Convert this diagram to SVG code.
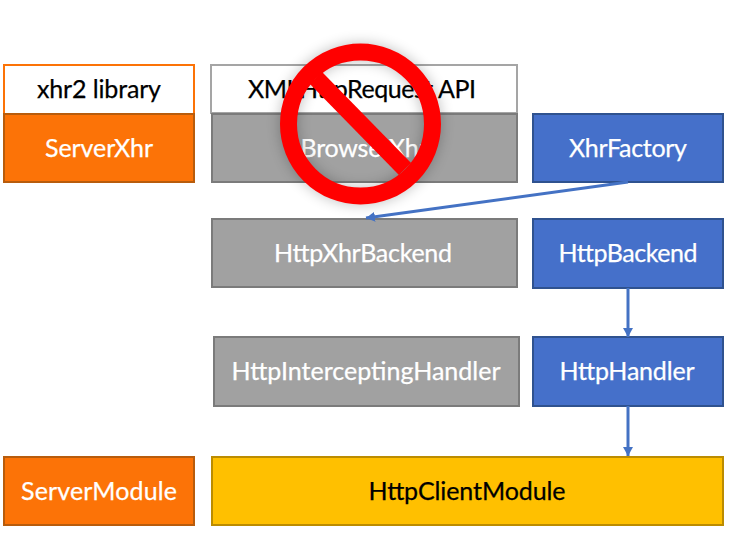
<svg xmlns="http://www.w3.org/2000/svg" width="733" height="539" viewBox="0 0 733 539">
<defs>
<style>
text{font-family:"Lato","Liberation Sans",sans-serif;font-size:25px;text-anchor:middle;stroke-width:.25px}
.w{fill:#fff;stroke:#fff}.k{fill:#000;stroke:#000}
.or rect{fill:#fc7307;stroke:#b85c0c;stroke-width:2}
.gr rect{fill:#a1a1a1;stroke:#7b7b7b;stroke-width:2}
.bl rect{fill:#4570ca;stroke:#2f528f;stroke-width:2}
.ye rect{fill:#ffc000;stroke:#bc8c00;stroke-width:2}
.c{fill:none;stroke:#4472c4;stroke-width:3}
</style>
<marker id="a" markerUnits="userSpaceOnUse" markerWidth="10" markerHeight="10" refX="9" refY="5" orient="auto"><path d="M0 0L9 5L0 10Z" fill="#4472c4"/></marker>
<filter id="s" x="-20%" y="-20%" width="140%" height="140%"><feGaussianBlur stdDeviation="7"/></filter>
</defs>
<g id="xhr2"><rect x="4" y="65" width="190" height="49" fill="#fff" stroke="#fc7307" stroke-width="2"/><text class="k" x="99" y="97.500" textLength="124">xhr2 library</text></g>
<g id="serverxhr" class="or"><rect x="4" y="114" width="190" height="68"/><text class="w" x="99" y="157" textLength="108">ServerXhr</text></g>
<g id="xhrapi"><rect x="211" y="65" width="306" height="48" fill="#fff" stroke="#a5a5a5" stroke-width="2"/><text class="k" x="362" y="98" textLength="228">XMLHttpRequest API</text></g>
<g id="browserxhr" class="gr"><rect x="212" y="114" width="305" height="68"/><text class="w" x="364" y="157" textLength="127">BrowserXhr</text></g>
<g id="xhrfactory" class="bl"><rect x="533" y="114" width="190" height="68"/><text class="w" x="628" y="157" textLength="118">XhrFactory</text></g>
<g id="httpxhrbackend" class="gr"><rect x="212" y="219" width="305" height="68"/><text class="w" x="363" y="262" textLength="178">HttpXhrBackend</text></g>
<g id="httpbackend" class="bl"><rect x="533" y="219" width="190" height="69"/><text class="w" x="628" y="262" textLength="139">HttpBackend</text></g>
<g id="httpinterceptinghandler" class="gr"><rect x="214" y="337" width="305" height="69"/><text class="w" x="366" y="380" textLength="269">HttpInterceptingHandler</text></g>
<g id="httphandler" class="bl"><rect x="533" y="337" width="190" height="69"/><text class="w" x="627" y="380" textLength="135">HttpHandler</text></g>
<g id="servermodule" class="or"><rect x="4" y="457" width="190" height="68"/><text class="w" x="99" y="500" textLength="156">ServerModule</text></g>
<g id="httpclientmodule" class="ye"><rect x="212" y="457" width="511" height="68"/><text class="k" x="467" y="500" textLength="197">HttpClientModule</text></g>
<g id="connectors">
<path class="c" d="M628 182L366 218" marker-end="url(#a)"/>
<path class="c" d="M628 288V337" marker-end="url(#a)"/>
<path class="c" d="M628 406V456" marker-end="url(#a)"/>
</g>
<g id="prohibited">
<g filter="url(#s)" opacity=".25"><circle cx="360.500" cy="124" r="72" fill="none" stroke="#000" stroke-width="17"/></g>
<circle cx="360.500" cy="124" r="72" fill="none" stroke="#f00" stroke-width="17"/>
<path d="M316 78L405 169" stroke="#f00" stroke-width="17" fill="none"/>
</g>
</svg>
